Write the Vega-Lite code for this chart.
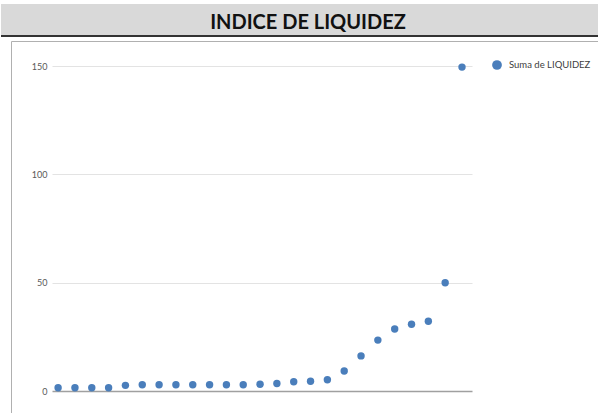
{
  "$schema": "https://vega.github.io/schema/vega-lite/v6.json",
  "background": "white",
  "padding": {"top": 4, "left": 0, "right": 0, "bottom": 0},
  "spacing": 3,
  "config": {"font": "Lato"},
  "datasets": {
    "liquidez": [
      {"i": 1, "valor": 1.5}, {"i": 2, "valor": 1.5}, {"i": 3, "valor": 1.5}, {"i": 4, "valor": 1.5},
      {"i": 5, "valor": 2.6}, {"i": 6, "valor": 2.9}, {"i": 7, "valor": 2.9}, {"i": 8, "valor": 2.9},
      {"i": 9, "valor": 2.9}, {"i": 10, "valor": 2.9}, {"i": 11, "valor": 2.9}, {"i": 12, "valor": 2.9},
      {"i": 13, "valor": 3.1}, {"i": 14, "valor": 3.5}, {"i": 15, "valor": 4.3}, {"i": 16, "valor": 4.5},
      {"i": 17, "valor": 5.2}, {"i": 18, "valor": 9.2}, {"i": 19, "valor": 16.2}, {"i": 20, "valor": 23.5},
      {"i": 21, "valor": 28.6}, {"i": 22, "valor": 30.8}, {"i": 23, "valor": 32.2}, {"i": 24, "valor": 50},
      {"i": 25, "valor": 149.5}
    ]
  },
  "vconcat": [
    {
      "width": 598,
      "height": 32,
      "view": {"fill": "#d9d9d9", "stroke": null},
      "data": {"values": [{"titulo": "INDICE DE LIQUIDEZ"}]},
      "layer": [
        {
          "mark": {"type": "text", "font": "Lato", "fontSize": 20, "fontWeight": "bold", "color": "#111111", "baseline": "middle", "dy": 3, "dx": 8},
          "encoding": {"text": {"field": "titulo"}}
        },
        {
          "mark": {"type": "rule", "color": "#333333", "strokeWidth": 2},
          "encoding": {
            "y": {"datum": 0, "type": "quantitative", "scale": {"domain": [0, 1]}, "axis": null}
          }
        }
      ]
    },
    {
      "hconcat": [
        {
          "width": 9,
          "height": 373,
          "view": {"stroke": null},
          "data": {"values": []},
          "mark": "point",
          "encoding": {}
        },
        {
          "width": 589,
          "height": 373,
          "view": {"stroke": "#b0b0b0", "strokeWidth": 1},
          "data": {"name": "liquidez"},
          "mark": {"type": "point", "filled": true, "opacity": 1, "size": 55},
          "encoding": {
            "x": {
              "field": "i", "type": "quantitative",
              "scale": {"domain": [-1.8, 33.2], "nice": false, "zero": false},
              "axis": null
            },
            "y": {
              "field": "valor", "type": "quantitative",
              "scale": {"domain": [-10.615, 161.54], "nice": false, "zero": false},
              "axis": {
                "title": null,
                "values": [0, 50, 100, 150],
                "offset": -41,
                "domain": false,
                "grid": false,
                "ticks": true,
                "tickSize": -420,
                "tickColor": {"condition": {"test": "datum.value === 0", "value": "#a0a0a0"}, "value": "#e3e3e3"},
                "tickWidth": {"condition": {"test": "datum.value === 0", "value": 1.5}, "value": 1},
                "labelPadding": 425,
                "labelFontSize": 9,
                "labelColor": "#595959",
                "labelFont": "Lato"
              }
            },
            "color": {
              "datum": "Suma de LIQUIDEZ",
              "scale": {"range": ["#4a7ebb"]},
              "legend": {
                "title": null,
                "orient": "none",
                "legendX": 490,
                "legendY": 55,
                "symbolType": "circle",
                "symbolSize": 95,
                "symbolOpacity": 1,
                "labelFontSize": 9.5,
                "labelOffset": 6,
                "labelColor": "#404040",
                "labelFont": "Lato"
              }
            }
          }
        }
      ],
      "spacing": 0
    }
  ]
}
